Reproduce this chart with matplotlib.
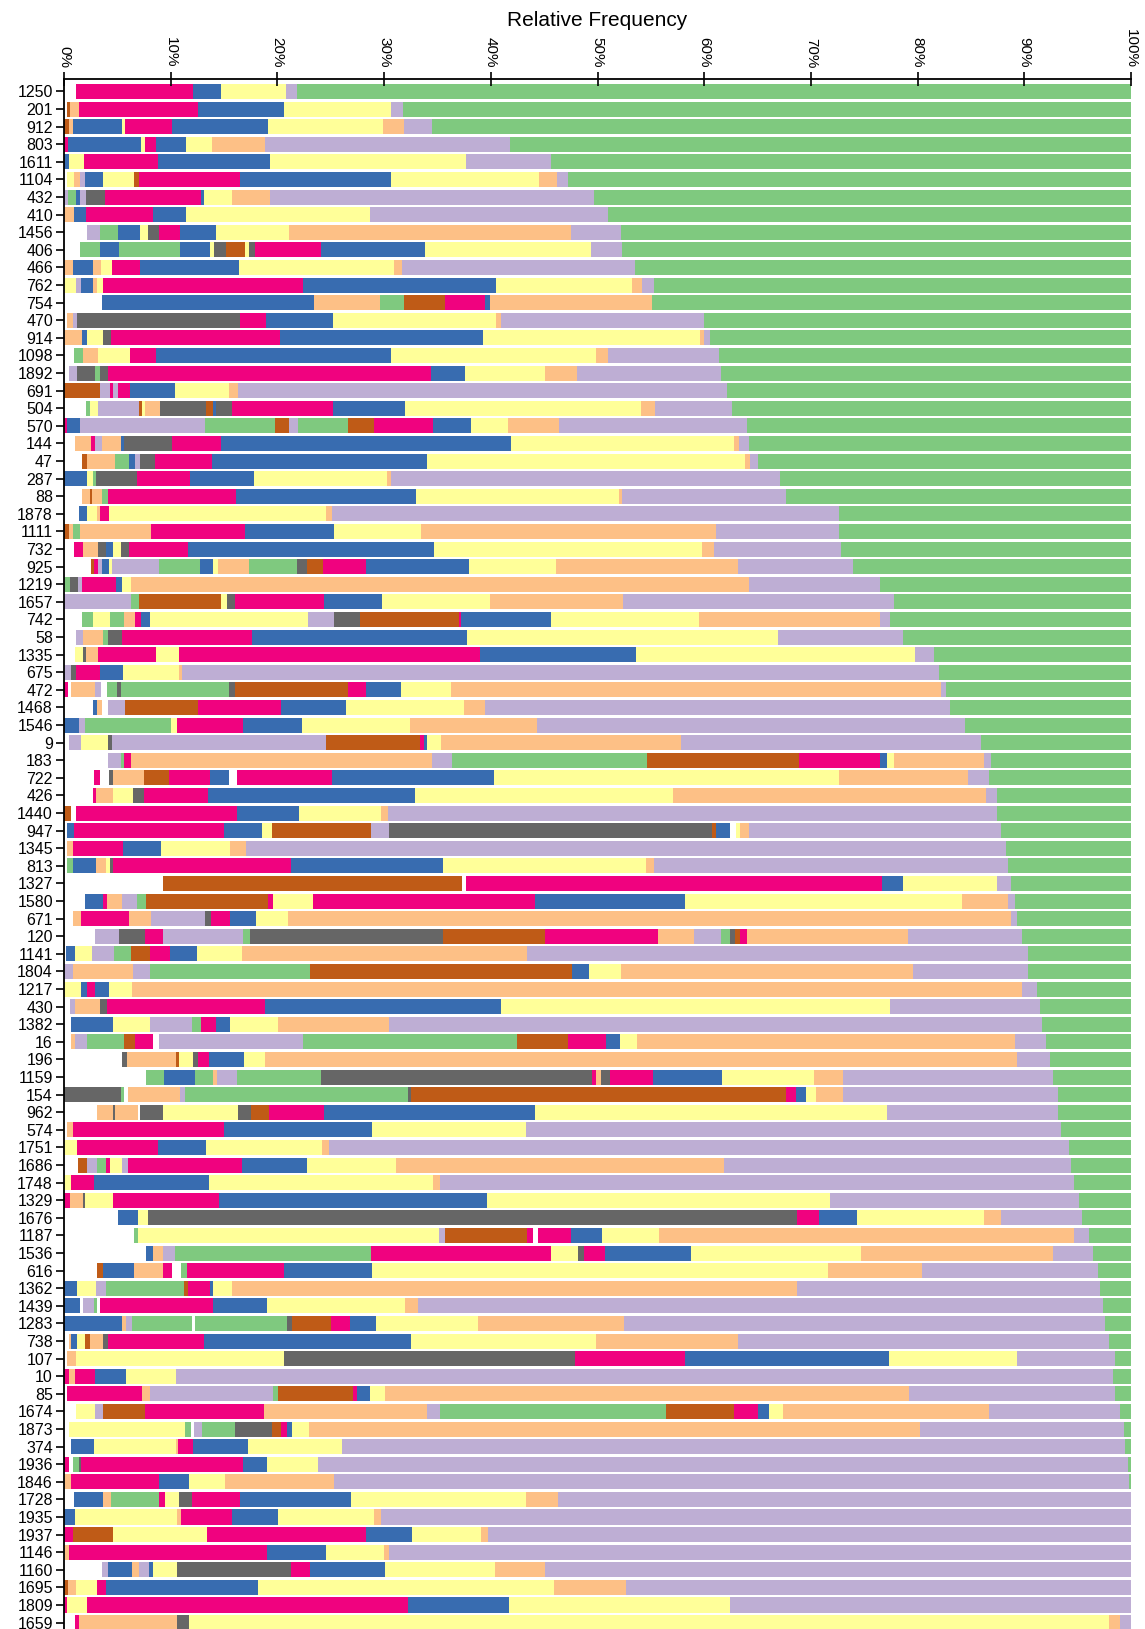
import matplotlib
matplotlib.use("Agg")
import matplotlib.pyplot as plt

# Accent palette codes (W = empty / background)
palette = {
    "G": "#7fc97f", "P": "#beaed4", "O": "#fdc086", "Y": "#ffff99",
    "B": "#386cb0", "K": "#f0027f", "N": "#bf5b17", "D": "#666666",
    "W": "#ffffff",
}

row_labels = ["1250", "201", "912", "803", "1611", "1104", "432", "410",
              "1456", "406", "466", "762", "754", "470", "914", "1098",
              "1892", "691", "504", "570", "144", "47", "287", "88",
              "1878", "1111", "732", "925", "1219", "1657", "742", "58",
              "1335", "675", "472", "1468", "1546", "9", "183", "722",
              "426", "1440", "947", "1345", "813", "1327", "1580", "671",
              "120", "1141", "1804", "1217", "430", "1382", "16", "196",
              "1159", "154", "962", "574", "1751", "1686", "1748", "1329",
              "1676", "1187", "1536", "616", "1362", "1439", "1283", "738",
              "107", "10", "85", "1674", "1873", "374", "1936", "1846",
              "1728", "1935", "1937", "1146", "1160", "1695", "1809", "1659"]

# segments per row, left to right: colour code + relative frequency (%)
segments = [
    "W1.1 K11.0 B2.6 Y6.1 P1.0 G78.2",
    "W0.3 N0.3 O0.8 K11.2 B8.0 Y10.0 P1.2 G68.2",
    "N0.5 O0.3 B4.6 Y0.3 K4.4 B9.0 Y10.8 O2.0 P2.6 G65.5",
    "K0.4 B6.8 Y0.4 K1.0 B2.8 Y2.5 O4.9 P23.0 G58.2",
    "B0.5 Y1.4 K6.9 B10.5 Y18.4 P7.9 G54.4",
    "W0.3 Y0.6 O0.6 P0.5 B1.7 Y2.9 N0.4 K9.5 B14.1 Y13.9 O1.7 P1.0 G52.8",
    "P0.4 G0.7 B0.4 P0.6 D1.7 K9.0 B0.3 Y2.6 O3.6 P30.4 G50.3",
    "O0.9 B1.2 K6.2 B3.1 Y17.3 P22.3 G49.0",
    "W2.2 P1.2 G1.7 B2.0 Y0.8 D1.0 K2.0 B3.3 Y6.9 O26.4 P4.7 G47.8",
    "W1.5 G1.9 B1.8 G5.7 B2.8 Y0.4 D1.1 N1.8 Y0.3 D0.6 K6.2 B9.7 Y15.6 P2.9 G47.7",
    "O0.8 B1.9 O0.8 Y1.0 K2.6 B9.3 Y14.5 O0.8 P21.8 G46.5",
    "Y1.1 P0.5 B1.1 O0.4 Y0.6 K18.7 B18.1 Y12.7 O1.0 P1.1 G44.7",
    "W3.6 B19.8 O6.2 G2.3 N3.8 K3.8 B0.4 O15.2 G44.9",
    "W0.3 O0.5 P0.4 D15.3 K2.4 B6.3 Y15.3 O0.5 P19.0 G40.0",
    "O1.7 B0.5 Y1.5 D0.7 K15.8 B19.1 Y20.3 O0.4 P0.5 G39.5",
    "W0.9 G0.9 O1.4 Y3.0 K2.4 B22.0 Y19.3 O1.1 P10.4 G38.6",
    "W0.5 P0.7 D1.7 G0.5 D0.7 K30.3 B3.2 Y7.5 O3.0 P13.5 G38.4",
    "N3.4 P0.9 K0.3 P0.5 K1.1 B4.2 Y5.1 O0.8 P45.8 G37.9",
    "W2.1 G0.3 Y0.8 P3.8 N0.3 Y0.3 O1.4 D4.3 N0.7 B0.2 D1.5 K9.5 B6.8 Y22.1 O1.3 P7.2 G37.4",
    "K0.3 B1.2 P11.7 G6.6 N1.3 P0.8 G4.7 N2.5 K5.5 B3.5 Y3.5 O4.8 P17.6 G36.0",
    "W1.0 O1.5 K0.4 P0.7 O1.7 B0.3 D4.5 K4.6 B27.2 Y20.9 O0.5 P0.9 G35.8",
    "W1.7 N0.5 O2.6 G1.3 B0.6 P0.4 D1.4 K5.4 B20.1 Y29.8 O0.5 P0.7 G35.0",
    "B2.2 Y0.5 G0.3 D3.8 K5.0 B6.0 Y12.5 O0.3 P36.5 G32.9",
    "W1.7 O0.7 N0.2 O1.0 G0.5 K12.0 B16.9 Y19.0 O0.3 P15.4 G32.3",
    "W1.4 B0.8 Y0.9 O0.3 K0.8 Y20.4 O0.5 P47.5 G27.4",
    "N0.5 O0.3 G0.7 O6.7 K8.8 B8.3 Y8.2 O27.6 P11.5 G27.4",
    "W0.9 K0.9 O1.4 D0.7 B0.7 Y0.7 D0.8 K5.5 B23.1 Y25.1 O1.1 P11.9 G27.2",
    "W2.5 N0.3 K0.4 P0.4 B0.6 Y0.3 P4.4 G3.8 B1.3 Y0.4 O2.9 G4.5 D1.0 N1.5 K4.0 B9.7 Y8.1 O17.1 P10.7 G26.1",
    "G0.6 D0.7 P0.4 K3.2 B0.5 Y0.9 O57.9 P12.3 G23.5",
    "P6.3 G0.7 N7.7 Y0.6 D0.7 K8.4 B5.4 Y10.1 O12.5 P25.4 G22.2",
    "W1.7 G1.0 Y1.6 G1.3 O1.1 K0.5 B0.9 Y14.8 P2.4 D2.4 N9.3 K0.2 B8.4 Y13.9 O17.0 P0.9 G22.6",
    "W1.1 P0.7 O1.9 G0.4 D1.3 K12.2 B20.2 Y29.1 P11.7 G21.4",
    "W1.0 Y0.8 D0.3 O1.1 K5.4 Y2.2 K28.2 B14.6 Y26.2 P1.7 G18.5",
    "P0.7 D0.4 K2.3 B2.1 Y5.3 O0.3 P70.9 G18.0",
    "K0.4 W0.3 O2.2 P0.6 W0.5 G1.0 D0.3 G10.2 D0.5 N10.6 K1.7 B3.3 Y4.7 O45.9 P0.5 G17.3",
    "W2.7 B0.4 O0.5 W0.5 P1.6 N6.9 K7.7 B6.1 Y11.1 O2.0 P43.5 G17.0",
    "B1.4 P0.6 G8.0 Y0.6 K6.2 B5.5 Y10.1 O11.9 P40.1 G15.6",
    "W0.5 P1.1 Y2.5 D0.4 P20.1 N8.8 K0.3 B0.3 Y1.3 O22.5 P28.1 G14.1",
    "W4.1 P1.2 G0.3 K0.7 O28.2 P1.9 G18.2 N14.3 K7.6 B0.6 Y0.7 O8.4 P0.7 G13.1",
    "W2.8 K0.6 W0.8 D0.4 O2.9 N2.3 K3.9 B1.8 W0.7 K8.9 B15.2 Y32.3 O12.1 P2.0 G13.3",
    "W2.7 K0.3 O1.6 Y1.9 D1.0 K6.0 B19.4 Y24.2 O29.3 P1.0 G12.6",
    "N0.7 W0.4 K15.1 B5.8 Y7.7 O0.7 P57.0 G12.6",
    "W0.3 B0.6 K14.1 B3.6 Y0.9 N9.3 P1.7 D30.2 N0.4 B1.3 W0.6 Y0.4 O0.8 P23.6 G12.2",
    "W0.3 O0.5 K4.7 B3.6 Y6.5 O1.5 P71.2 G11.7",
    "W0.3 G0.5 B2.2 O0.9 Y0.4 D0.3 K16.7 B14.2 Y19.0 O0.8 P33.2 G11.5",
    "W9.3 N28.0 W0.4 K39.0 B1.9 Y8.8 P1.4 G11.2",
    "W2.0 B1.7 K0.3 O1.4 P1.4 G0.9 N11.4 K0.5 Y3.7 K20.8 B14.1 Y26.0 O4.3 P0.6 G10.9",
    "W0.8 O0.8 K4.5 O2.1 P5.0 D0.6 K1.8 B2.4 Y3.0 O67.8 P0.5 G10.7",
    "W2.9 P2.3 D2.4 K1.7 P7.5 G0.6 D18.1 N9.6 K10.6 O3.3 P2.6 G0.8 D0.5 N0.5 K0.6 O15.1 P10.7 G10.2",
    "W0.2 B0.8 Y1.6 P2.1 G1.6 N1.8 K1.8 B2.6 Y4.2 O26.7 P46.9 G9.7",
    "P0.8 O5.7 P1.6 G15.0 N24.5 B1.6 Y3.0 O27.4 P10.7 G9.7",
    "Y1.6 B0.6 K0.7 B1.3 Y2.2 O83.4 P1.4 G8.8",
    "W0.6 P0.4 O2.4 D0.6 K14.8 B22.2 Y36.4 P14.1 G8.5",
    "W0.7 B3.9 Y3.5 P3.9 G0.8 K1.4 B1.4 Y4.5 O10.4 P61.2 G8.3",
    "W0.7 O0.3 P1.2 G3.4 N1.1 K1.6 W0.6 P13.5 G20.1 N4.7 K3.6 B1.3 Y1.6 O35.4 P2.9 G8.0",
    "W5.4 D0.5 O4.6 N0.3 Y1.3 D0.5 K1.0 B3.3 Y1.9 O70.5 P3.1 G7.6",
    "W7.7 G1.7 B2.9 G1.7 O0.3 P1.9 G7.9 D25.4 K0.4 O0.4 D0.9 K4.0 B6.5 Y8.6 O2.7 P19.7 G7.3",
    "D5.3 G0.3 W0.4 O4.9 P0.4 G20.9 D0.3 N35.2 K0.9 B0.9 Y1.0 O2.5 P20.2 G6.8",
    "W3.1 O1.5 D0.2 O2.1 W0.2 D2.2 Y7.0 D1.2 N1.7 K5.2 B19.7 Y33.0 P16.1 G6.8",
    "W0.3 O0.5 K14.2 B13.9 Y14.4 P50.1 G6.6",
    "Y1.2 K7.6 B4.5 Y10.9 O0.6 P69.4 G5.8",
    "W1.3 N0.9 P0.9 G0.8 K0.4 Y1.1 P0.6 K10.7 B6.1 Y8.3 O30.8 P32.5 G5.6",
    "Y0.7 K2.1 B10.8 Y21.0 O0.6 P59.5 G5.3",
    "K0.6 O1.2 D0.2 Y2.6 K9.9 B25.1 Y32.2 P23.3 G4.9",
    "W5.1 B1.8 Y1.0 D60.8 K2.1 B3.5 Y11.9 O1.6 P7.6 G4.6",
    "W6.6 G0.3 Y28.2 P0.6 N7.7 K0.6 W0.4 K3.1 B2.9 Y5.4 O38.9 P1.4 G3.9",
    "W7.7 B0.6 O1.0 P1.1 G18.4 K16.8 Y2.6 D0.5 K2.0 B8.1 Y15.9 O18.0 P3.7 G3.6",
    "W3.1 N0.6 B2.9 O2.7 K0.8 W0.9 G0.5 K9.1 B8.3 Y42.7 O8.8 P16.5 G3.1",
    "B1.2 Y1.8 P0.9 G7.3 N0.4 K2.1 B0.3 Y1.7 O53.0 P28.4 G2.9",
    "B1.5 W0.3 P1.0 G0.3 W0.3 K10.6 B5.0 Y13.0 O1.2 P64.2 G2.6",
    "B5.4 O0.4 P0.6 G5.6 W0.3 G8.6 D0.5 N3.6 K1.8 B2.4 Y9.6 O13.7 P45.1 G2.4",
    "W0.5 O0.2 B0.5 Y0.8 N0.4 O1.3 D0.4 K9.0 B19.4 Y17.4 O13.3 P34.7 G2.1",
    "W0.3 O0.8 Y19.5 D27.3 K10.3 B19.1 Y12.0 P9.2 G1.5",
    "K0.5 O0.5 K1.9 B2.9 Y4.7 P87.8 G1.7",
    "W0.3 K7.0 O0.8 P11.5 G0.5 N7.0 K0.4 B1.2 Y1.4 O49.1 P19.3 G1.5",
    "W1.1 Y1.8 P0.8 N3.9 K11.1 O15.3 P1.2 G21.2 N6.4 K2.2 B1.1 Y1.3 O19.3 P12.3 G1.0",
    "W0.5 Y10.8 G0.6 W0.3 P0.7 G3.1 D3.5 N0.8 K0.6 B0.5 Y1.6 O57.2 P19.1 G0.7",
    "W0.7 B2.1 Y7.7 O0.2 K1.4 B5.1 Y8.9 P73.3 G0.6",
    "K0.5 W0.3 G0.6 D0.2 K15.2 B2.2 Y4.8 P75.9 G0.3",
    "O0.7 K8.2 B2.8 Y3.4 O10.2 P74.5 G0.2",
    "W0.9 B2.8 O0.7 G4.5 K0.6 Y1.3 D1.2 K4.5 B10.4 Y16.4 O3.0 P53.7",
    "B1.0 Y9.6 O0.4 K4.7 B4.4 Y9.0 O0.6 P70.3",
    "K0.8 N3.8 Y8.8 K14.9 B4.3 Y6.5 O0.6 P60.3",
    "O0.5 K18.5 B5.6 Y5.4 O0.5 P69.5",
    "W3.6 P0.5 B2.3 O0.6 P1.0 B0.3 Y2.3 D10.7 K1.8 B7.0 Y10.3 O4.7 P54.9",
    "N0.4 O0.7 Y2.0 K0.8 B14.3 Y27.7 O6.8 P47.3",
    "K0.3 Y1.9 K30.0 B9.5 Y20.7 P37.6",
    "W1.0 K0.4 O9.2 D1.1 Y86.2 O1.1 P1.0",
]

x_ticks = [0, 10, 20, 30, 40, 50, 60, 70, 80, 90, 100]
x_tick_labels = [f"{v}%" for v in x_ticks]

plt.rcParams['font.family'] = ['Liberation Sans', 'DejaVu Sans']

W, H = 1145, 1629
fig = plt.figure(figsize=(W / 100, H / 100), dpi=100)
ax = fig.add_axes([64 / W, 0, 1067 / W, (H - 79) / H])

for i, seg in enumerate(segments):
    parts = seg.split()
    codes = [p[0] for p in parts]
    widths = [float(p[1:]) for p in parts]
    total = sum(widths)
    widths = [w * 100.0 / total for w in widths]
    lefts = []
    acc = 0.0
    for w in widths:
        lefts.append(acc)
        acc += w
    ax.barh([i] * len(widths), widths, left=lefts, height=0.86,
            color=[palette[c] for c in codes], edgecolor='none', zorder=1)

ax.set_xlim(0, 100)
ax.set_ylim(87.36, -0.71)

ax.xaxis.tick_top()
ax.set_xticks(x_ticks)
ax.set_xticklabels(x_tick_labels, rotation=-90, fontsize=11)
ax.tick_params(axis='x', direction='inout', length=10, width=1.2, pad=3)

ax.set_yticks(range(len(row_labels)))
ax.set_yticklabels(row_labels, fontsize=11.5)
ax.tick_params(axis='y', direction='out', length=6, width=1.2, pad=2)

for s in ['right', 'bottom']:
    ax.spines[s].set_visible(False)
for s in ['left', 'top']:
    ax.spines[s].set_linewidth(1.3)
    ax.spines[s].set_zorder(3)

fig.text(597 / W, 1 - 21 / H, "Relative Frequency", ha='center', va='center',
         fontsize=15)

fig.savefig("out.png", dpi=100)
